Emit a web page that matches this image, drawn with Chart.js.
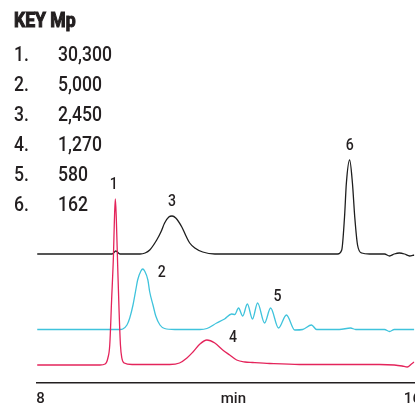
<!DOCTYPE html>
<html>
<head>
<meta charset="utf-8">
<script src="https://cdn.jsdelivr.net/npm/chart.js@4.4.1/dist/chart.umd.min.js"></script>
<style>
  html, body { margin: 0; padding: 0; background: #fff; overflow: hidden; }
  #wrap { position: relative; width: 430px; height: 416px; }
</style>
</head>
<body>
<div id="wrap"><canvas id="myChart" width="430" height="416"></canvas></div>
<script>
// retention time (min) and detector response
const blackTime = [7.93, 9.39, 9.54, 9.62, 9.71, 10.14, 10.25, 10.35, 10.50, 10.59, 10.67, 10.76, 10.83, 10.91, 11.04, 11.13, 11.21, 11.32, 11.49, 11.75, 13.57, 14.39, 14.48, 14.54, 14.58, 14.65, 14.71, 14.76, 14.82, 14.91, 15.08, 15.40, 15.51, 15.61, 15.72, 15.83, 15.94, 16.04];
const blackSignal = [0, 0, 0, 0.3, 0, 0, 0.1, 0.4, 1.4, 2.2, 3.1, 3.7, 3.8, 3.6, 2.7, 1.8, 1.1, 0.6, 0.2, 0, 0, 0, 0.4, 3.7, 7.1, 9.4, 7.1, 3.7, 0.9, 0.1, 0, 0, -0.2, 0, 0.1, 0, -0.2, -0.1];

const cyanTime = [7.93, 9.71, 9.77, 9.86, 9.92, 9.99, 10.05, 10.09, 10.16, 10.20, 10.24, 10.31, 10.35, 10.42, 10.48, 10.57, 10.67, 10.89, 11.43, 11.58, 11.79, 11.96, 12.11, 12.18, 12.26, 12.35, 12.45, 12.56, 12.67, 12.82, 12.95, 13.12, 13.29, 13.47, 13.64, 13.83, 13.94, 14.43, 14.67, 14.78, 15.40, 15.51, 15.61, 16.04];
const cyanSignal = [0, 0, 0.05, 0.45, 1.15, 2.45, 3.95, 4.95, 5.85, 6.05, 5.85, 4.95, 3.75, 2.45, 1.35, 0.45, 0.1, 0, 0, 0.1, 0.65, 1.05, 1.55, 1.5, 2.15, 1.35, 2.55, 1.05, 2.65, 0.65, 2.15, 0.15, 1.45, -0.05, 0, 0.45, 0, 0, 0.15, 0, 0, -0.2, 0, 0];

const redTime = [7.93, 9.28, 9.39, 9.45, 9.49, 9.53, 9.57, 9.59, 9.61, 9.63, 9.66, 9.69, 9.72, 9.75, 9.80, 9.97, 10.78, 10.99, 11.15, 11.28, 11.43, 11.58, 11.75, 11.92, 12.07, 12.22, 12.40, 12.56, 12.93, 13.57, 15.29, 15.61, 15.78, 15.89, 15.98, 16.04];
const redSignal = [0, 0, 0.1, 0.7, 2.0, 6.5, 11.0, 14.5, 16.6, 14.8, 10.0, 5.5, 2.0, 0.7, 0.2, 0.05, 0.05, 0.2, 0.7, 1.3, 2.1, 2.5, 2.2, 1.5, 1.0, 0.5, 0.3, 0.25, 0.15, 0.05, 0.05, 0, -0.1, -0.2, 0.1, 0.3];

// trace offsets (stacked chromatograms)
const blackOffset = 12.9;
const cyanOffset = 5.35;
const redOffset = 1.8;

const xTicks = [8, 16];
const axisLabel = 'min';
const axisLabelAt = 12.15;

const keyTitle = 'KEY Mp';
const keyPeaks = ['1.', '2.', '3.', '4.', '5.', '6.'];
const keyMp = ['30,300', '5,000', '2,450', '1,270', '580', '162'];

const peakLabels = ['1', '2', '3', '4', '5', '6'];
const peakTimes = [9.61, 10.20, 10.83, 11.58, 12.67, 14.65];
const peakSeries = [0, 1, 2, 0, 1, 2];

const labelOffsets = [[-1.5, -14], [19, 4], [0, -14], [26, -2], [20, -6], [0, -14]];
const fontFamily = 'Roboto, "Liberation Sans", sans-serif';
const squeeze = 0.88; // condensed look
const textColor = '#231f20';

const toPoints = (t, s, off) => t.map((x, i) => ({x: x, y: s[i] + off}));

function narrowText(ctx, text, x, y, heavy) {
    ctx.save();
    ctx.translate(x, y);
    ctx.scale(squeeze, 1);
    ctx.fillText(text, 0, 0);
    if (heavy) {
        ctx.lineWidth = heavy;
        ctx.strokeStyle = textColor;
        ctx.strokeText(text, 0, 0);
    }
    ctx.restore();
}

const annotate = {
    id: 'annotate',
    afterDraw(chart) {
        const ctx = chart.ctx;
        ctx.save();
        ctx.fillStyle = textColor;
        ctx.textAlign = 'left';
        ctx.textBaseline = 'alphabetic';
        ctx.font = 'bold 20px ' + fontFamily;
        narrowText(ctx, keyTitle, 14, 27, 1.1);
        ctx.font = '500 20px ' + fontFamily;
        keyPeaks.forEach((p, i) => {
            const y = 61 + i * 30;
            narrowText(ctx, p, 14, y);
            narrowText(ctx, keyMp[i], 58, y);
        });

        ctx.font = '500 16px ' + fontFamily;
        ctx.textAlign = 'center';
        ctx.textBaseline = 'middle';
        peakLabels.forEach((lab, i) => {
            const idx = peakSeries[i];
            const pts = chart.data.datasets[idx].data;
            let best = 0;
            pts.forEach((d, j) => {
                if (Math.abs(d.x - peakTimes[i]) < Math.abs(pts[best].x - peakTimes[i])) best = j;
            });
            const el = chart.getDatasetMeta(idx).data[best];
            narrowText(ctx, lab, el.x + labelOffsets[i][0], el.y + labelOffsets[i][1]);
        });
        ctx.restore();
    }
};

const lineStyle = {
    borderWidth: 1.3,
    pointRadius: 0,
    fill: false,
    cubicInterpolationMode: 'monotone'
};

new Chart(document.getElementById('myChart'), {
    type: 'line',
    data: {
        datasets: [
            Object.assign({label: 'red', data: toPoints(redTime, redSignal, redOffset), borderColor: '#e4245b'}, lineStyle),
            Object.assign({label: 'cyan', data: toPoints(cyanTime, cyanSignal, cyanOffset), borderColor: '#3fc3dc'}, lineStyle),
            Object.assign({label: 'black', data: toPoints(blackTime, blackSignal, blackOffset), borderColor: '#1e1e1e'}, lineStyle)
        ]
    },
    options: {
        responsive: false,
        animation: false,
        layout: {padding: {left: 37, right: 15, top: 0, bottom: 0}},
        plugins: {legend: {display: false}, tooltip: {enabled: false}},
        scales: {
            x: {
                type: 'linear',
                min: 7.925,
                max: 16.043,
                afterBuildTicks: (scale) => {
                    scale.ticks = xTicks.concat([axisLabelAt]).sort((a, b) => a - b).map(v => ({value: v}));
                },
                grid: {display: true, drawOnChartArea: false, drawTicks: false, color: 'rgba(0,0,0,0)'},
                border: {display: true, color: '#231f20', width: 1.5},
                ticks: {
                    autoSkip: false,
                    maxRotation: 0,
                    padding: 9,
                    color: textColor,
                    font: {family: fontFamily, size: 15, weight: '500', lineHeight: 1},
                    callback: (v) => v === axisLabelAt ? axisLabel : String(v)
                }
            },
            y: {
                type: 'linear',
                display: false,
                min: 0,
                max: 38.3
            }
        }
    },
    plugins: [annotate]
});
</script>
</body>
</html>
